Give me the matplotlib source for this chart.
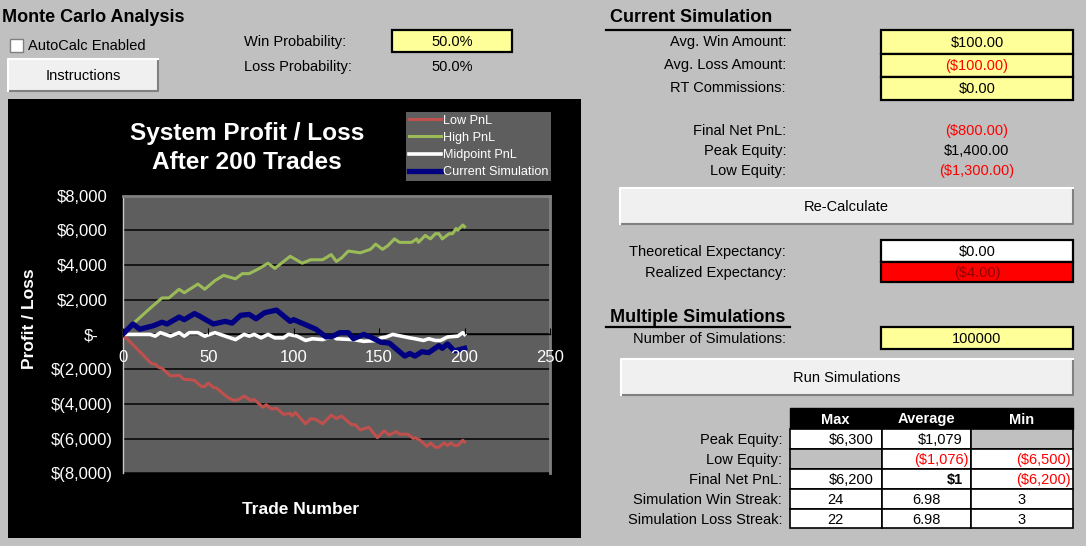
import matplotlib
matplotlib.use("Agg")
import matplotlib.pyplot as plt
from matplotlib.patches import Rectangle
from matplotlib.transforms import Affine2D

plt.rcParams['font.family'] = ['Liberation Sans', 'DejaVu Sans']

high_x = [0,7,16,23,27,33,36,44,48,54,59,66,70,74,80,85,89,98,105,110,114,117,122,125,128,132,139,145,148,152,155,159,162,169,172,173,177,180,183,185,187,191,193,195,196,199,200]
high_y = [0,700,1500,2100,2100,2600,2400,2900,2600,3100,3400,3200,3500,3500,3800,4100,3800,4500,4100,4300,4300,4300,4600,4200,4400,4800,4700,4900,5200,4900,5100,5500,5300,5300,5500,5300,5700,5500,5800,5800,5500,5800,5800,6100,6000,6300,6200]
low_x = [0,17,19,21,23,28,33,36,39,42,46,48,50,53,55,61,65,68,71,75,77,82,84,87,90,94,98,99,101,107,110,113,117,122,125,128,134,136,139,144,149,153,156,160,162,167,170,171,174,178,180,183,185,188,190,192,194,196,199,200]
low_y = [0,-1700,-1700,-1900,-1950,-2400,-2350,-2600,-2600,-2650,-3000,-3000,-2800,-3050,-3100,-3600,-3800,-3750,-3550,-3800,-3750,-4200,-4050,-4300,-4250,-4600,-4550,-4700,-4500,-5150,-4850,-4900,-5150,-4650,-4850,-4700,-5200,-5200,-5500,-5350,-5950,-5550,-5800,-5600,-5750,-5750,-6000,-5950,-6100,-6450,-6250,-6500,-6500,-6250,-6400,-6250,-6400,-6400,-6100,-6200]
mid_x = [0,16,19,22,28,33,36,39,44,48,54,60,66,71,74,77,81,85,89,94,97,102,107,111,117,123,125,135,141,149,151,154,158,168,171,176,179,183,186,190,196,199,200]
mid_y = [0,0,-100,100,-100,100,-100,100,100,-100,100,-100,-300,0,-100,0,-200,0,-200,-200,0,-100,-350,-250,-300,-100,-250,-300,-400,-350,-200,-150,0,-200,-250,-350,-250,-350,-350,-150,-100,100,0]
cur_x = [0,6,10,18,23,26,33,36,42,45,53,60,64,69,74,78,83,90,98,100,106,113,119,123,127,129,132,135,141,145,151,156,165,168,171,175,179,185,187,190,194,200]
cur_y = [0,600,300,500,700,600,1000,850,1200,1050,600,750,650,1100,1150,900,1250,1400,750,850,600,300,-150,-100,100,100,100,-250,0,-150,-450,-500,-1250,-1100,-1250,-1000,-1050,-650,-800,-550,-950,-800]

series_names = ['Low PnL', 'High PnL', 'Midpoint PnL', 'Current Simulation']
x_ticks = [0, 50, 100, 150, 200, 250]
y_ticks = [8000, 6000, 4000, 2000, 0, -2000, -4000, -6000, -8000]
y_tick_labels = ['$8,000', '$6,000', '$4,000', '$2,000', '$-', '$(2,000)', '$(4,000)', '$(6,000)', '$(8,000)']

win_prob = '50.0%'
loss_prob = '50.0%'
current_rows = [('Avg. Win Amount:', '$100.00', 'k'), ('Avg. Loss Amount:', '($100.00)', 'red'), ('RT Commissions:', '$0.00', 'k')]
result_rows = [('Final Net PnL:', '($800.00)', 'red', 130), ('Peak Equity:', '$1,400.00', 'k', 150), ('Low Equity:', '($1,300.00)', 'red', 170)]
table_header = ['Max', 'Average', 'Min']
table_labels = ['Peak Equity:', 'Low Equity:', 'Final Net PnL:', 'Simulation Win Streak:', 'Simulation Loss Streak:']
table_cells = [['$6,300', '$1,079', None], [None, '($1,076)', '($6,500)'], ['$6,200', '$1', '($6,200)'], ['24', '6.98', '3'], ['22', '6.98', '3']]

W, H = 1086, 546
BG = '#c0c0c0'
YEL = '#ffff99'
fig = plt.figure(figsize=(W/100, H/100), dpi=100, facecolor=BG)
sheet = fig.add_axes([0, 0, 1, 1], zorder=0)
sheet.set_xlim(0, W); sheet.set_ylim(H, 0); sheet.axis('off')

def T(x, y, s, ha='left', size=10.5, color='k', weight='normal', **kw):
    return sheet.text(x, y+1, s, ha=ha, va='center', fontsize=size, color=color, fontweight=weight, zorder=5, **kw)

def box(x0, y0, x1, y1, fc, ec='k', lw=1.6, z=2):
    sheet.add_patch(Rectangle((x0, y0), x1-x0, y1-y0, facecolor=fc, edgecolor=ec, linewidth=lw, zorder=z))

def button(x0, y0, x1, y1, label):
    box(x0, y0, x1, y1, '#f0f0f0', ec='none', lw=0)
    sheet.plot([x0, x1, x1], [y1, y1, y0], color='#808080', lw=1.5, zorder=3)
    sheet.plot([x0, x0, x1], [y1, y0, y0], color='white', lw=1.5, zorder=3)
    T((x0+x1)/2, (y0+y1)/2, label, ha='center')

# Left header
T(2, 16, 'Monte Carlo Analysis', size=13, weight='bold')
box(9.5, 39, 22.5, 52, 'white', ec='#808080', lw=1)
T(28, 45, 'AutoCalc Enabled')
button(8, 59, 158, 91, 'Instructions')
T(244, 41, 'Win Probability:')
T(244, 66, 'Loss Probability:')
box(392, 30, 512, 52, YEL)
T(452, 41, win_prob, ha='center')
T(452, 66, loss_prob, ha='center')

# Chart background
box(7.5, 99, 581, 538, 'k', ec='none', lw=0)

# Right: current simulation
T(610, 16, 'Current Simulation', size=13, weight='bold')
sheet.plot([606, 790], [30, 30], color='k', lw=1.6, zorder=3)
row_tops = [30, 53.5, 77, 100]
for i, (lab, val, col) in enumerate(current_rows):
    box(881, row_tops[i], 1073, row_tops[i+1], YEL)
    cy = (row_tops[i]+row_tops[i+1])/2
    T(786, cy-1, lab, ha='right')
    T(977, cy, val, ha='center', color=col)
for lab, val, col, y in result_rows:
    T(786, y, lab, ha='right')
    T(977, y, val, ha='center', color=col)
button(620, 188, 1073, 224, 'Re-Calculate')
T(786, 251, 'Theoretical Expectancy:', ha='right')
T(786, 272, 'Realized Expectancy:', ha='right')
box(881, 240, 1073, 261.5, 'white')
box(881, 261.5, 1073, 282, '#ff0000')
T(977, 251, '$0.00', ha='center')
T(977, 272, '($4.00)', ha='center', color='#900000')
T(610, 316, 'Multiple Simulations', size=13, weight='bold')
sheet.plot([606, 790], [327, 327], color='k', lw=1.6, zorder=3)
T(786, 338, 'Number of Simulations:', ha='right')
box(881, 327, 1073, 349, YEL)
T(977, 338, '100000', ha='center')
button(621, 359, 1073, 395, 'Run Simulations')

# Results table
col_x = [789.5, 881.5, 970.5, 1072.5]
row_y = [408, 429, 449, 469, 489, 509, 528]
box(col_x[0], row_y[0], col_x[3], row_y[1], 'k', lw=1)
for j, h in enumerate(table_header):
    T((col_x[j]+col_x[j+1])/2, (row_y[0]+row_y[1])/2, h, ha='center', color='white', weight='bold')
for i, lab in enumerate(table_labels):
    cy = (row_y[i+1]+row_y[i+2])/2
    T(782, cy, lab, ha='right')
    for j, v in enumerate(table_cells[i]):
        x0, x1 = col_x[j], col_x[j+1]
        box(x0, row_y[i+1], x1, row_y[i+2], BG if v is None else 'white', lw=1.2)
        if v is None:
            continue
        neg = v.startswith('(')
        if i >= 3:
            T((x0+x1)/2, cy, v, ha='center')
        else:
            T(x1-2 if neg else x1-8, cy, v, ha='right', color='red' if neg else 'k',
              weight='bold' if v == '$1' else 'normal')

# Chart
ax_l, ax_r, ax_t, ax_b = 122.7, 550, 195.5, 473.3
ax = fig.add_axes([ax_l/W, 1-ax_b/H, (ax_r-ax_l)/W, (ax_b-ax_t)/H], zorder=2, facecolor='#5e5e5e')
ax.plot(low_x, low_y, color='#c0504d', lw=2.2, label=series_names[0], zorder=3.0, solid_joinstyle='round')
ax.plot(high_x, high_y, color='#9bbb59', lw=2.2, label=series_names[1], zorder=3.1, solid_joinstyle='round')
ax.plot(mid_x, mid_y, color='white', lw=2.6, label=series_names[2], zorder=3.2, solid_joinstyle='round')
ax.plot(cur_x, cur_y, color='#000080', lw=3.8, label=series_names[3], zorder=3.3, solid_joinstyle='round')
ax.set_xlim(0, 250); ax.set_ylim(-8000, 8000)
ax.set_xticks(x_ticks)
ax.set_yticks(y_ticks); ax.set_yticklabels(y_tick_labels)
ax.grid(axis='y', color='#101010', lw=1.3)
ax.spines['bottom'].set_position(('data', 0))
ax.spines['bottom'].set_color('k'); ax.spines['bottom'].set_linewidth(1)
ax.spines['left'].set_color('#c8c8c8'); ax.spines['left'].set_linewidth(1)
ax.spines['top'].set_color('#808080'); ax.spines['top'].set_linewidth(2)
ax.spines['right'].set_color('#808080'); ax.spines['right'].set_linewidth(2)
ax.tick_params(axis='x', direction='in', length=4, color='k', labelcolor='white', labelsize=12, pad=11)
ax.tick_params(axis='y', length=0, labelcolor='white', labelsize=12, pad=7)
for lbl in ax.get_yticklabels():
    s = lbl.get_text()
    dx = 0 if s.endswith(')') else (-14 if s == '$-' else -5)
    lbl.set_transform(lbl.get_transform() + Affine2D().translate(dx, 0))
ax.yaxis.set_zorder(0.5)
ax.xaxis.set_zorder(5)

T(247, 147, 'System Profit / Loss\nAfter 200 Trades', ha='center', size=17.6, color='white', weight='bold', linespacing=1.3)
T(301, 509, 'Trade Number', ha='center', size=12.5, color='white', weight='bold')
T(30, 318, 'Profit / Loss', ha='center', size=12.5, color='white', weight='bold', rotation=90)

leg = ax.legend(loc='upper left', bbox_to_anchor=(406/W, 1-112/H), bbox_transform=fig.transFigure,
                frameon=True, facecolor='#5e5e5e', edgecolor='none', fancybox=False, framealpha=1,
                fontsize=9.1, labelcolor='white', borderpad=0.2, labelspacing=0.42,
                handlelength=2.6, handletextpad=0.1, borderaxespad=0)
leg.set_zorder(6)

fig.savefig('out.png', dpi=100, facecolor=BG)
